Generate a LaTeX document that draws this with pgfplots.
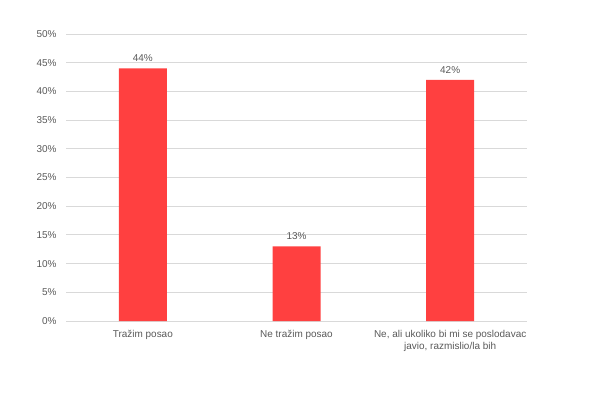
\documentclass[border=0pt]{standalone}
\usepackage{pgfplots}
\pgfplotsset{compat=1.18}
\usepackage{fontspec}
\setmainfont{Liberation Sans}
\definecolor{barred}{HTML}{FF4040}
\definecolor{gridgray}{HTML}{D9D9D9}
\definecolor{txtgray}{HTML}{595959}
\begin{document}
\begin{tikzpicture}[x=1bp,y=1bp]
\useasboundingbox (0,0) rectangle (602,392);
\begin{axis}[
  at={(66bp,71bp)}, anchor=south west,
  scale only axis,
  width=461bp, height=287bp,
  xmin=-0.5, xmax=2.5,
  ymin=0, ymax=50,
  ytick={0,5,...,50},
  yticklabel={\pgfmathprintnumber{\tick}\%},
  xtick={0,1,2},
  xticklabels={Tražim posao, Ne tražim posao, {Ne, ali ukoliko bi mi se poslodavac\\javio, razmislio/la bih}},
  xticklabel style={align=center, font=\fontsize{10}{12}\selectfont, text=txtgray},
  yticklabel style={font=\fontsize{10}{12}\selectfont, text=txtgray},
  /pgf/number format/assume math mode=true,
  ymajorgrids, grid style={gridgray, line width=0.9pt},
  axis line style={draw=none},
  major tick length=0pt,
  tick style={draw=none},
  ybar, bar width=48bp,
  nodes near coords={\pgfmathprintnumber{\pgfplotspointmeta}\%},
  nodes near coords style={font=\fontsize{10}{12}\selectfont, text=txtgray, yshift=3bp},
  xticklabel shift=6bp,
  yticklabel shift=6bp,
]
\addplot[fill=barred, draw=none] coordinates {(0,44) (1,13) (2,42)};
\end{axis}
\end{tikzpicture}
\end{document}
